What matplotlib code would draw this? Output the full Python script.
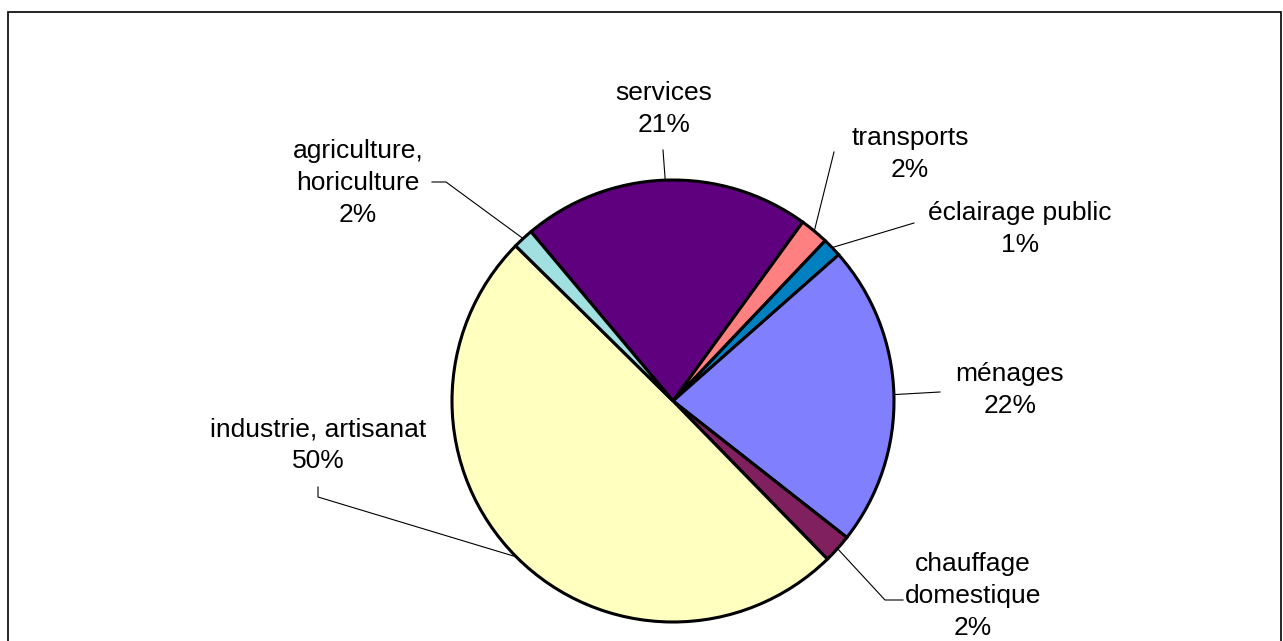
import numpy as np
import matplotlib.pyplot as plt
from matplotlib.patches import Rectangle

# data (clockwise from the top-left)
labels = ['services', 'transports', 'éclairage public', 'ménages',
          'chauffage\ndomestique', 'industrie, artisanat', 'agriculture,\nhoriculture']
values = [21.1, 2.1, 1.4, 22.1, 2.1, 49.7, 1.5]
pct_text = ['21%', '2%', '1%', '22%', '2%', '50%', '2%']
colors = ['#5F007F', '#FF8080', '#0080C0', '#8080FF', '#80205F', '#FFFFC0', '#A0E0E0']

W, H = 1283, 641
cx, cy, r = 673, 401, 221     # pie centre / radius in pixels (y from top)
start = 130

# label centres (pixels from top) and leader line paths (elbow, end)
label_pos = [(664, 109), (910, 154), (1020, 229), (1010, 390),
             (973, 596), (318, 445), (358, 183)]
leader = [[(663, 150)], [(834, 152)], [(914, 223)], [(940, 392)],
          [(885, 600), (903, 600)], [(318, 497), (318, 487)], [(446, 182), (432, 182)]]

plt.rcParams['font.family'] = ['Liberation Sans', 'DejaVu Sans']

fig = plt.figure(figsize=(W / 100, H / 100), dpi=100)
ax = fig.add_axes([0, 0, 1, 1])

ax.pie(values, colors=colors, startangle=start, counterclock=False,
       center=(cx, H - cy), radius=r,
       wedgeprops=dict(edgecolor='black', linewidth=2.2))
ax.set_aspect('auto')
ax.set_xlim(0, W)
ax.set_ylim(0, H)
ax.axis('off')

# leader lines from each wedge's middle
frac = np.array(values) / sum(values)
edges = start - 360 * np.concatenate([[0], np.cumsum(frac)])
mids = (edges[:-1] + edges[1:]) / 2
for i, m in enumerate(mids):
    ax0 = cx + r * np.cos(np.radians(m))
    ay0 = cy - r * np.sin(np.radians(m))
    pts = [(ax0, ay0)] + leader[i]
    xs = [p[0] for p in pts]
    ys = [H - p[1] for p in pts]
    ax.plot(xs, ys, color='black', lw=0.8)

for lab, pc, (x, y) in zip(labels, pct_text, label_pos):
    ax.text(x, H - y, lab + '\n' + pc, ha='center', va='center',
            fontsize=19, linespacing=1.4)

# chart frame
ax.add_patch(Rectangle((8, -10), 1273, H - 12 + 10, fill=False,
                       edgecolor='black', lw=1.2, clip_on=False))

fig.savefig('out.png', dpi=100)
